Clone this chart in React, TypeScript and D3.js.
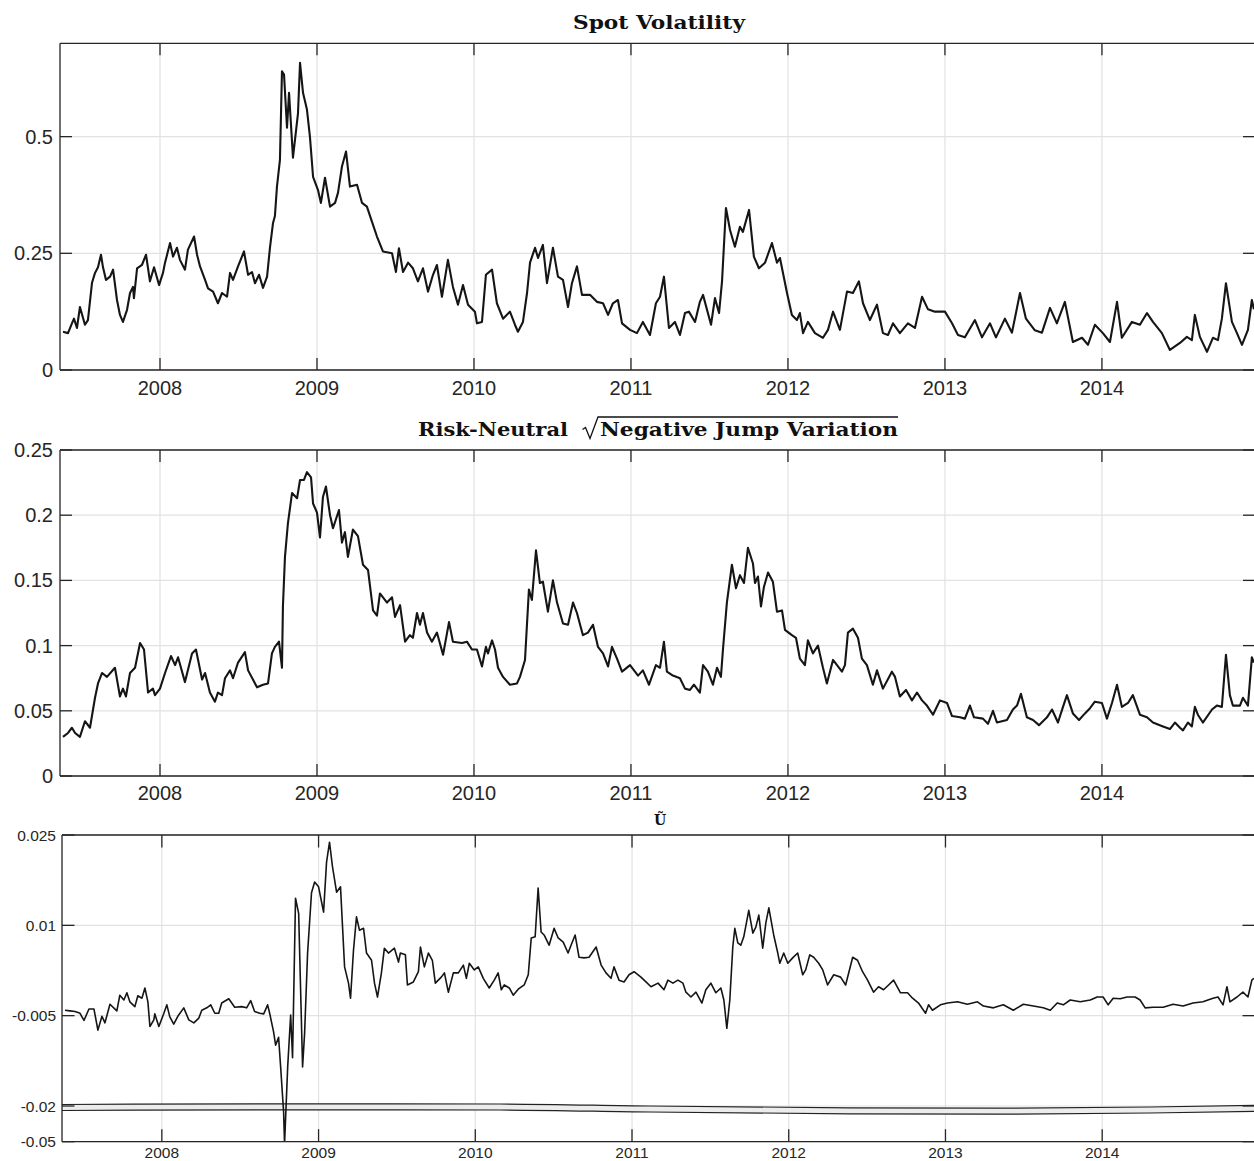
import React from 'react';
import * as d3 from 'd3';

// Decimal-year x positions, shared axis ticks
const yearTicks = [2008, 2009, 2010, 2011, 2012, 2013, 2014];
const spotTicks = [0, 0.25, 0.5];
const jumpTicks = [0, 0.05, 0.1, 0.15, 0.2, 0.25];
const uTicks = [-0.05, -0.02, -0.005, 0.01, 0.025];

// Spot volatility: [decimal year, value]
const spotVol: [number, number][] = [
  [2007.382,0.082],[2007.414,0.079],[2007.439,0.10],[2007.452,0.11],[2007.471,0.09],[2007.490,0.135],[2007.522,0.097],[2007.541,0.107],
  [2007.567,0.187],[2007.586,0.208],[2007.605,0.22],[2007.624,0.247],[2007.637,0.22],[2007.656,0.193],[2007.682,0.20],[2007.701,0.215],
  [2007.726,0.15],[2007.745,0.118],[2007.764,0.103],[2007.790,0.129],[2007.809,0.165],[2007.828,0.178],[2007.834,0.154],[2007.854,0.218],
  [2007.885,0.225],[2007.911,0.247],[2007.936,0.19],[2007.962,0.22],[2007.994,0.182],[2008.019,0.208],[2008.032,0.23],[2008.064,0.272],
  [2008.083,0.243],[2008.108,0.262],[2008.127,0.236],[2008.159,0.215],[2008.178,0.258],[2008.217,0.286],[2008.236,0.247],[2008.255,0.222],
  [2008.287,0.193],[2008.306,0.175],[2008.338,0.168],[2008.369,0.143],[2008.395,0.165],[2008.427,0.157],[2008.446,0.208],[2008.465,0.193],
  [2008.497,0.222],[2008.535,0.254],[2008.561,0.204],[2008.586,0.21],[2008.605,0.186],[2008.631,0.204],[2008.656,0.176],[2008.682,0.20],
  [2008.701,0.264],[2008.720,0.315],[2008.732,0.33],[2008.745,0.393],[2008.764,0.45],[2008.777,0.64],[2008.790,0.633],[2008.809,0.519],
  [2008.822,0.594],[2008.847,0.455],[2008.879,0.55],[2008.892,0.658],[2008.911,0.594],[2008.936,0.558],[2008.955,0.50],[2008.975,0.414],
  [2009.006,0.386],[2009.025,0.358],[2009.051,0.412],[2009.083,0.35],[2009.115,0.358],[2009.134,0.38],[2009.159,0.436],[2009.185,0.468],
  [2009.210,0.393],[2009.255,0.397],[2009.287,0.358],[2009.318,0.35],[2009.350,0.318],[2009.382,0.286],[2009.420,0.254],[2009.478,0.25],
  [2009.503,0.21],[2009.522,0.261],[2009.548,0.21],[2009.580,0.23],[2009.611,0.218],[2009.643,0.19],[2009.675,0.218],[2009.707,0.168],
  [2009.739,0.204],[2009.764,0.225],[2009.796,0.157],[2009.834,0.236],[2009.866,0.178],[2009.898,0.14],[2009.930,0.182],[2009.962,0.14],
  [2010.006,0.125],[2010.019,0.10],[2010.051,0.103],[2010.076,0.204],[2010.115,0.215],[2010.146,0.143],[2010.185,0.11],[2010.229,0.125],
  [2010.261,0.097],[2010.280,0.082],[2010.312,0.103],[2010.338,0.165],[2010.357,0.23],[2010.389,0.262],[2010.408,0.24],[2010.439,0.268],
  [2010.465,0.186],[2010.503,0.262],[2010.535,0.20],[2010.567,0.193],[2010.599,0.135],[2010.624,0.186],[2010.656,0.222],[2010.688,0.161],
  [2010.739,0.161],[2010.783,0.146],[2010.822,0.143],[2010.854,0.118],[2010.885,0.143],[2010.917,0.15],[2010.943,0.10],[2010.994,0.086],
  [2011.038,0.079],[2011.076,0.103],[2011.121,0.075],[2011.159,0.143],[2011.185,0.157],[2011.210,0.20],[2011.242,0.09],[2011.280,0.103],
  [2011.312,0.075],[2011.344,0.122],[2011.369,0.125],[2011.408,0.103],[2011.439,0.146],[2011.459,0.161],[2011.510,0.097],[2011.535,0.154],
  [2011.561,0.122],[2011.580,0.19],[2011.605,0.347],[2011.631,0.30],[2011.662,0.264],[2011.694,0.307],[2011.713,0.296],[2011.752,0.343],
  [2011.783,0.243],[2011.815,0.218],[2011.854,0.23],[2011.898,0.272],[2011.930,0.23],[2011.949,0.24],[2011.994,0.165],[2012.025,0.118],
  [2012.057,0.107],[2012.076,0.122],[2012.096,0.079],[2012.127,0.103],[2012.172,0.079],[2012.223,0.069],[2012.255,0.086],[2012.287,0.125],
  [2012.331,0.086],[2012.376,0.168],[2012.414,0.165],[2012.452,0.19],[2012.478,0.143],[2012.522,0.107],[2012.567,0.14],[2012.605,0.079],
  [2012.637,0.075],[2012.669,0.10],[2012.713,0.079],[2012.764,0.10],[2012.809,0.09],[2012.854,0.157],[2012.892,0.13],[2012.936,0.125],
  [2013.000,0.125],[2013.045,0.10],[2013.083,0.075],[2013.127,0.07],[2013.191,0.107],[2013.236,0.07],[2013.287,0.10],[2013.325,0.07],
  [2013.382,0.11],[2013.427,0.08],[2013.478,0.165],[2013.516,0.11],[2013.573,0.085],[2013.618,0.08],[2013.669,0.133],[2013.713,0.10],
  [2013.764,0.146],[2013.815,0.06],[2013.873,0.069],[2013.911,0.054],[2013.955,0.097],[2014.006,0.079],[2014.051,0.06],[2014.096,0.146],
  [2014.127,0.069],[2014.191,0.103],[2014.242,0.097],[2014.287,0.122],[2014.325,0.103],[2014.382,0.079],[2014.433,0.043],[2014.497,0.058],
  [2014.541,0.071],[2014.573,0.064],[2014.592,0.118],[2014.624,0.071],[2014.669,0.039],[2014.707,0.069],[2014.739,0.064],[2014.764,0.11],
  [2014.790,0.186],[2014.828,0.103],[2014.860,0.079],[2014.892,0.054],[2014.930,0.086],[2014.955,0.15],[2014.968,0.13],
];

// Risk-neutral square-root negative jump variation
const jumpVar: [number, number][] = [
  [2007.382,0.030],[2007.414,0.033],[2007.439,0.037],[2007.459,0.033],[2007.490,0.030],[2007.522,0.042],[2007.554,0.037],[2007.586,0.060],
  [2007.605,0.071],[2007.631,0.079],[2007.662,0.076],[2007.713,0.083],[2007.745,0.061],[2007.764,0.067],[2007.783,0.061],[2007.809,0.079],
  [2007.841,0.083],[2007.873,0.102],[2007.898,0.097],[2007.924,0.064],[2007.955,0.067],[2007.968,0.062],[2008.000,0.067],[2008.032,0.079],
  [2008.070,0.092],[2008.096,0.085],[2008.115,0.091],[2008.159,0.072],[2008.204,0.094],[2008.229,0.097],[2008.268,0.074],[2008.287,0.079],
  [2008.318,0.064],[2008.350,0.057],[2008.369,0.064],[2008.395,0.062],[2008.414,0.075],[2008.446,0.081],[2008.465,0.075],[2008.497,0.087],
  [2008.541,0.095],[2008.561,0.081],[2008.592,0.074],[2008.618,0.068],[2008.656,0.070],[2008.688,0.071],[2008.713,0.094],[2008.732,0.099],
  [2008.758,0.103],[2008.777,0.083],[2008.783,0.130],[2008.796,0.168],[2008.815,0.194],[2008.841,0.217],[2008.873,0.213],[2008.892,0.227],
  [2008.917,0.227],[2008.936,0.233],[2008.962,0.229],[2008.975,0.209],[2009.000,0.202],[2009.019,0.183],[2009.038,0.214],[2009.057,0.222],
  [2009.083,0.200],[2009.102,0.190],[2009.140,0.204],[2009.159,0.179],[2009.178,0.187],[2009.197,0.168],[2009.229,0.189],[2009.261,0.184],
  [2009.293,0.162],[2009.325,0.158],[2009.357,0.127],[2009.382,0.123],[2009.401,0.140],[2009.446,0.133],[2009.478,0.137],[2009.497,0.122],
  [2009.529,0.131],[2009.561,0.103],[2009.592,0.108],[2009.611,0.106],[2009.637,0.125],[2009.656,0.116],[2009.675,0.125],[2009.701,0.110],
  [2009.732,0.103],[2009.764,0.110],[2009.803,0.093],[2009.841,0.118],[2009.866,0.103],[2009.924,0.102],[2009.955,0.103],[2009.987,0.097],
  [2010.019,0.097],[2010.051,0.084],[2010.076,0.099],[2010.089,0.094],[2010.115,0.104],[2010.134,0.097],[2010.153,0.083],[2010.185,0.076],
  [2010.229,0.070],[2010.274,0.071],[2010.293,0.076],[2010.325,0.089],[2010.350,0.143],[2010.369,0.135],[2010.395,0.173],[2010.420,0.148],
  [2010.439,0.149],[2010.471,0.126],[2010.503,0.150],[2010.529,0.133],[2010.567,0.117],[2010.599,0.116],[2010.631,0.133],[2010.656,0.125],
  [2010.694,0.108],[2010.726,0.110],[2010.758,0.116],[2010.790,0.099],[2010.822,0.094],[2010.854,0.084],[2010.879,0.099],[2010.911,0.090],
  [2010.943,0.080],[2010.994,0.085],[2011.045,0.077],[2011.076,0.081],[2011.115,0.070],[2011.159,0.085],[2011.185,0.083],[2011.210,0.103],
  [2011.229,0.080],[2011.267,0.077],[2011.312,0.075],[2011.344,0.067],[2011.376,0.066],[2011.401,0.070],[2011.439,0.064],[2011.459,0.085],
  [2011.490,0.080],[2011.522,0.070],[2011.548,0.083],[2011.573,0.076],[2011.586,0.097],[2011.611,0.133],[2011.643,0.162],[2011.669,0.144],
  [2011.694,0.154],[2011.720,0.148],[2011.745,0.175],[2011.777,0.163],[2011.790,0.148],[2011.809,0.153],[2011.828,0.130],[2011.847,0.145],
  [2011.873,0.156],[2011.904,0.149],[2011.930,0.126],[2011.962,0.127],[2011.981,0.112],[2012.025,0.108],[2012.051,0.106],[2012.076,0.090],
  [2012.108,0.085],[2012.127,0.104],[2012.159,0.094],[2012.191,0.100],[2012.223,0.083],[2012.248,0.071],[2012.287,0.089],[2012.344,0.080],
  [2012.363,0.085],[2012.382,0.110],[2012.414,0.113],[2012.446,0.106],[2012.471,0.090],[2012.503,0.085],[2012.541,0.070],[2012.567,0.081],
  [2012.605,0.067],[2012.662,0.080],[2012.682,0.076],[2012.713,0.061],[2012.752,0.066],[2012.790,0.058],[2012.822,0.064],[2012.854,0.058],
  [2012.885,0.054],[2012.924,0.047],[2012.968,0.058],[2013.013,0.056],[2013.045,0.046],[2013.096,0.045],[2013.127,0.044],[2013.159,0.054],
  [2013.185,0.045],[2013.242,0.044],[2013.274,0.040],[2013.306,0.050],[2013.331,0.041],[2013.395,0.043],[2013.433,0.051],[2013.459,0.054],
  [2013.484,0.063],[2013.522,0.045],[2013.561,0.043],[2013.599,0.039],[2013.650,0.045],[2013.682,0.051],[2013.720,0.041],[2013.752,0.053],
  [2013.777,0.062],[2013.815,0.048],[2013.854,0.043],[2013.892,0.048],[2013.924,0.052],[2013.955,0.057],[2014.000,0.056],[2014.032,0.044],
  [2014.064,0.056],[2014.096,0.070],[2014.127,0.053],[2014.166,0.056],[2014.197,0.062],[2014.242,0.047],[2014.287,0.045],[2014.325,0.041],
  [2014.389,0.038],[2014.433,0.036],[2014.465,0.041],[2014.497,0.037],[2014.516,0.035],[2014.548,0.041],[2014.573,0.038],[2014.592,0.053],
  [2014.611,0.047],[2014.643,0.041],[2014.701,0.051],[2014.732,0.054],[2014.764,0.053],[2014.790,0.093],[2014.815,0.062],[2014.834,0.054],
  [2014.879,0.054],[2014.898,0.060],[2014.930,0.054],[2014.955,0.091],[2014.968,0.087],
];

// U-tilde series
const uTilde: [number, number][] = [
  [2007.382,-0.0041],[2007.414,-0.0042],[2007.446,-0.0043],[2007.478,-0.0046],[2007.503,-0.0058],[2007.535,-0.0039],[2007.567,-0.0039],[2007.592,-0.0074],
  [2007.618,-0.0051],[2007.637,-0.0062],[2007.669,-0.0031],[2007.713,-0.0042],[2007.732,-0.0016],[2007.758,-0.0024],[2007.777,-0.0012],[2007.796,-0.0027],
  [2007.828,-0.0035],[2007.847,-0.0017],[2007.873,-0.0021],[2007.892,-0.0004],[2007.911,-0.0027],[2007.924,-0.0068],[2007.949,-0.0057],[2007.955,-0.0047],
  [2007.981,-0.0068],[2008.013,-0.0046],[2008.032,-0.0032],[2008.051,-0.0052],[2008.076,-0.0064],[2008.102,-0.0051],[2008.140,-0.0037],[2008.172,-0.0057],
  [2008.204,-0.0062],[2008.236,-0.0054],[2008.255,-0.0041],[2008.287,-0.0037],[2008.312,-0.0032],[2008.338,-0.0046],[2008.363,-0.0046],[2008.382,-0.0029],
  [2008.427,-0.0022],[2008.465,-0.0036],[2008.510,-0.0035],[2008.541,-0.0037],[2008.567,-0.0025],[2008.592,-0.0043],[2008.624,-0.0046],[2008.650,-0.0047],
  [2008.675,-0.0032],[2008.688,-0.0046],[2008.713,-0.0077],[2008.726,-0.0099],[2008.745,-0.0086],[2008.758,-0.0135],[2008.777,-0.025],[2008.783,-0.052],
  [2008.803,-0.0135],[2008.822,-0.0049],[2008.834,-0.012],[2008.853,0.0145],[2008.873,0.012],[2008.898,-0.0135],[2008.911,-0.0079],[2008.930,0.0054],
  [2008.955,0.0154],[2008.975,0.0172],[2009.000,0.0164],[2009.032,0.0122],[2009.051,0.0205],[2009.070,0.0238],[2009.089,0.0197],[2009.115,0.0155],
  [2009.140,0.0164],[2009.166,0.0031],[2009.191,0.0004],[2009.204,-0.0021],[2009.223,0.0059],[2009.242,0.0114],[2009.261,0.0092],[2009.287,0.0095],
  [2009.306,0.0054],[2009.338,0.0042],[2009.357,0.0004],[2009.376,-0.0019],[2009.401,0.0021],[2009.420,0.0062],[2009.446,0.0054],[2009.484,0.0062],
  [2009.510,0.0039],[2009.522,0.0054],[2009.554,0.0051],[2009.567,0.0001],[2009.605,0.0006],[2009.637,0.0023],[2009.650,0.0064],[2009.675,0.0031],
  [2009.701,0.0054],[2009.726,0.0042],[2009.745,0.0004],[2009.783,0.0014],[2009.803,0.0021],[2009.828,-0.0011],[2009.860,0.0021],[2009.892,0.0021],
  [2009.924,0.0034],[2009.943,0.0012],[2009.962,0.0037],[2009.994,0.0026],[2010.019,0.0031],[2010.051,0.0012],[2010.089,-0.0004],[2010.121,0.0009],
  [2010.146,0.0021],[2010.166,-0.0007],[2010.185,0.0001],[2010.217,-0.0004],[2010.242,-0.0016],[2010.274,-0.0006],[2010.312,0.0001],[2010.338,0.0018],
  [2010.357,0.0079],[2010.382,0.0081],[2010.401,0.0162],[2010.420,0.0089],[2010.439,0.0084],[2010.471,0.0067],[2010.503,0.0095],[2010.529,0.0079],
  [2010.561,0.0072],[2010.592,0.0054],[2010.611,0.0067],[2010.637,0.0084],[2010.662,0.0047],[2010.694,0.0046],[2010.726,0.0047],[2010.771,0.0064],
  [2010.803,0.0034],[2010.834,0.0021],[2010.866,0.0012],[2010.885,0.0031],[2010.917,0.0009],[2010.949,0.0006],[2010.981,0.0018],[2011.013,0.0023],
  [2011.057,0.0014],[2011.089,0.0006],[2011.121,-0.0002],[2011.166,0.0004],[2011.204,-0.0007],[2011.229,0.0009],[2011.261,0.0004],[2011.293,0.0009],
  [2011.325,0.0004],[2011.344,-0.0011],[2011.376,-0.0019],[2011.408,-0.0011],[2011.446,-0.0029],[2011.471,-0.0007],[2011.503,0.0004],[2011.535,-0.0012],
  [2011.567,-0.0004],[2011.586,-0.0024],[2011.605,-0.0071],[2011.624,-0.0024],[2011.643,0.0064],[2011.656,0.0095],[2011.675,0.0071],[2011.694,0.0067],
  [2011.713,0.0081],[2011.745,0.0125],[2011.771,0.0087],[2011.790,0.0097],[2011.809,0.0117],[2011.834,0.0062],[2011.854,0.0104],[2011.873,0.0129],
  [2011.904,0.0084],[2011.930,0.0054],[2011.943,0.0037],[2011.968,0.0054],[2011.994,0.0037],[2012.025,0.0046],[2012.057,0.0054],[2012.089,0.0018],
  [2012.108,0.0026],[2012.134,0.0051],[2012.159,0.0047],[2012.191,0.0037],[2012.217,0.0026],[2012.248,0.0001],[2012.287,0.0018],[2012.331,0.0014],
  [2012.363,0.0001],[2012.408,0.0047],[2012.439,0.0042],[2012.471,0.0023],[2012.503,0.0009],[2012.541,-0.0011],[2012.573,-0.0002],[2012.605,-0.0007],
  [2012.637,0.0001],[2012.669,0.0009],[2012.713,-0.0012],[2012.758,-0.0012],[2012.790,-0.0021],[2012.828,-0.0029],[2012.873,-0.0046],[2012.892,-0.0032],
  [2012.917,-0.0041],[2012.968,-0.0032],[2013.013,-0.0029],[2013.076,-0.0027],[2013.140,-0.0031],[2013.204,-0.0027],[2013.242,-0.0034],[2013.306,-0.0037],
  [2013.369,-0.0032],[2013.433,-0.0041],[2013.497,-0.0031],[2013.561,-0.0034],[2013.624,-0.0037],[2013.669,-0.0041],[2013.713,-0.0029],[2013.752,-0.0032],
  [2013.796,-0.0024],[2013.860,-0.0027],[2013.924,-0.0024],[2013.968,-0.0019],[2014.006,-0.0019],[2014.038,-0.0032],[2014.070,-0.0021],[2014.115,-0.0022],
  [2014.159,-0.0019],[2014.210,-0.0019],[2014.242,-0.0024],[2014.274,-0.0037],[2014.325,-0.0036],[2014.389,-0.0036],[2014.452,-0.0031],[2014.516,-0.0034],
  [2014.580,-0.0029],[2014.643,-0.0027],[2014.707,-0.0021],[2014.739,-0.0019],[2014.771,-0.0032],[2014.796,-0.0002],[2014.815,-0.0027],[2014.860,-0.0019],
  [2014.898,-0.0011],[2014.930,-0.0019],[2014.955,0.0009],[2014.968,0.0012],
];

const W = 1254;
const H = 1161;
const T0 = 2007.363;
const T1 = 2014.975;
const RIGHT = 1255;

const TICK_FONT = '"Liberation Sans", Arial, Helvetica, sans-serif';
const TITLE_FONT = '"DejaVu Serif", "Liberation Serif", serif';
const AXIS = '#262626';
const GRID = '#e2e2e2';
const LINE = '#151515';

type Scale = d3.ScaleLinear<number, number>;

interface PanelProps {
  id: string;
  x: Scale;
  y: Scale;
  top: number;
  bottom: number;
  left: number;
  yTicks: number[];
  data: [number, number][];
  fontSize: number;
  labelGap: number;
  xLabelBaseline: number;
  tickLen: number;
  strokeWidth: number;
  children?: React.ReactNode;
}

function Panel(p: PanelProps) {
  const line = d3
    .line<[number, number]>()
    .x((d) => p.x(d[0]))
    .y((d) => p.y(d[1]));
  return (
    <g>
      <defs>
        <clipPath id={p.id}>
          <rect x={p.left} y={p.top} width={RIGHT - p.left} height={p.bottom - p.top} />
        </clipPath>
      </defs>
      {/* grid */}
      {yearTicks.map((t) => (
        <line key={'gx' + t} x1={p.x(t)} x2={p.x(t)} y1={p.top} y2={p.bottom} stroke={GRID} strokeWidth={1.2} />
      ))}
      {p.yTicks.map((v) => (
        <line key={'gy' + v} x1={p.left} x2={RIGHT} y1={p.y(v)} y2={p.y(v)} stroke={GRID} strokeWidth={1.2} />
      ))}
      {p.children}
      <path d={line(p.data) || ''} fill="none" stroke={LINE} strokeWidth={p.strokeWidth} strokeLinejoin="round" clipPath={`url(#${p.id})`} />
      {/* box */}
      <path
        d={`M${p.left},${p.top}H${RIGHT}M${p.left},${p.bottom}H${RIGHT}M${p.left},${p.top}V${p.bottom}`}
        stroke={AXIS}
        strokeWidth={1.3}
        fill="none"
      />
      {/* ticks */}
      {yearTicks.map((t) => (
        <g key={'tx' + t}>
          <line x1={p.x(t)} x2={p.x(t)} y1={p.top} y2={p.top + p.tickLen} stroke={AXIS} strokeWidth={1.3} />
          <line x1={p.x(t)} x2={p.x(t)} y1={p.bottom} y2={p.bottom - p.tickLen} stroke={AXIS} strokeWidth={1.3} />
          <text
            x={p.x(t)}
            y={p.xLabelBaseline}
            textAnchor="middle"
            fontFamily={TICK_FONT}
            fontSize={p.fontSize}
            fill={AXIS}
          >
            {t}
          </text>
        </g>
      ))}
      {p.yTicks.map((v) => (
        <g key={'ty' + v}>
          <line x1={p.left} x2={p.left + p.tickLen} y1={p.y(v)} y2={p.y(v)} stroke={AXIS} strokeWidth={1.3} />
          <line x1={RIGHT} x2={RIGHT - p.tickLen} y1={p.y(v)} y2={p.y(v)} stroke={AXIS} strokeWidth={1.3} />
          <text
            x={p.left - p.labelGap}
            y={p.y(v)}
            textAnchor="end"
            dominantBaseline="central"
            fontFamily={TICK_FONT}
            fontSize={p.fontSize}
            fill={AXIS}
          >
            {String(v)}
          </text>
        </g>
      ))}
    </g>
  );
}

export default function App() {
  const x12 = d3.scaleLinear().domain([T0, T1]).range([60, RIGHT]);
  const x3 = d3.scaleLinear().domain([T0, T1]).range([62, RIGHT]);
  const ySpot = d3.scaleLinear().domain([0, 0.7]).range([370, 43.3]);
  const yJump = d3.scaleLinear().domain([0, 0.25]).range([776, 450]);
  const yU = d3.scaleLinear().domain([-0.05, -0.02, 0.025]).range([1141.7, 1106, 835]);

  // wavy break marker across the compressed part of the bottom axis
  const y0 = yU(-0.02);
  const wave: [number, number][] = [
    [62, -1.5], [300, -2.2], [500, -2], [650, 0], [850, 1.8], [1000, 2.2], [1150, 1], [RIGHT, -0.6],
  ];
  const edge = d3.line<[number, number]>().x((d) => d[0]).y((d) => d[1]).curve(d3.curveMonotoneX);
  const topEdge = wave.map(([x, o]) => [x, y0 + o] as [number, number]);
  const botEdge = wave.map(([x, o]) => [x, y0 + o + 6] as [number, number]);
  const bandPath =
    (edge(topEdge) || '') + 'L' + (edge(botEdge.slice().reverse()) || '').slice(1) + 'Z';

  return (
    <svg
      width={W}
      height={H}
      viewBox={`0 0 ${W} ${H}`}
      style={{ position: 'absolute', left: 0, top: 0, background: '#fff', display: 'block' }}
    >
      <rect x={0} y={0} width={W} height={H} fill="#fff" />

      <text x={659} y={29} textAnchor="middle" fontFamily={TITLE_FONT} fontWeight="bold" fontSize={19}
        textLength={172} lengthAdjust="spacingAndGlyphs" fill="#111">
        Spot Volatility
      </text>
      <Panel id="c1" x={x12} y={ySpot} top={43.3} bottom={370} left={60} yTicks={spotTicks} data={spotVol}
        fontSize={20} labelGap={7} xLabelBaseline={395} tickLen={12} strokeWidth={2.1} />

      <text x={418} y={436} fontFamily={TITLE_FONT} fontWeight="bold" fontSize={19}
        textLength={150} lengthAdjust="spacingAndGlyphs" fill="#111">
        Risk-Neutral
      </text>
      <path d="M582.5,429.5 L585.5,427.5 L590,438.5 L598,417 L898,417" fill="none" stroke="#111" strokeWidth={1.3} />
      <text x={600} y={436} fontFamily={TITLE_FONT} fontWeight="bold" fontSize={19}
        textLength={298} lengthAdjust="spacingAndGlyphs" fill="#111">
        Negative Jump Variation
      </text>
      <Panel id="c2" x={x12} y={yJump} top={450} bottom={776} left={60} yTicks={jumpTicks} data={jumpVar}
        fontSize={20} labelGap={7} xLabelBaseline={800} tickLen={12} strokeWidth={2.1} />

      <text x={660} y={825} textAnchor="middle" fontFamily={TITLE_FONT} fontWeight="bold" fontSize={14} fill="#111">
        Ũ
      </text>
      <Panel id="c3" x={x3} y={yU} top={835} bottom={1141.7} left={62} yTicks={uTicks} data={uTilde}
        fontSize={15.5} labelGap={6} xLabelBaseline={1158} tickLen={12.5} strokeWidth={1.6}>
        <path d={bandPath} fill="#ececec" stroke="none" />
        <path d={edge(topEdge) || ''} fill="none" stroke="#222" strokeWidth={1.2} />
        <path d={edge(botEdge) || ''} fill="none" stroke="#222" strokeWidth={1.2} />
      </Panel>
    </svg>
  );
}
